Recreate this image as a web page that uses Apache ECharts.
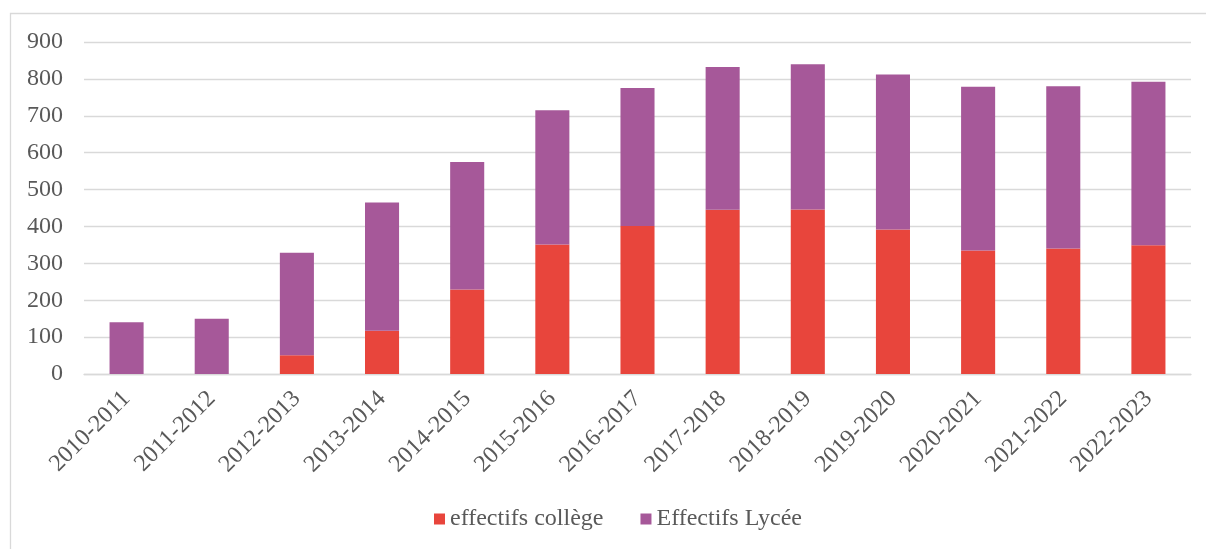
<!DOCTYPE html>
<html>
<head>
<meta charset="utf-8">
<script src="https://cdn.jsdelivr.net/npm/echarts@6/dist/echarts.min.js"></script>
<style>
  html, body { margin: 0; padding: 0; background: #fff; overflow: hidden; }
  #chart { width: 1206px; height: 549px; }
</style>
</head>
<body>
<div id="chart"></div>
<script>
const years = ['2010-2011', '2011-2012', '2012-2013', '2013-2014', '2014-2015', '2015-2016', '2016-2017',
  '2017-2018', '2018-2019', '2019-2020', '2020-2021', '2021-2022', '2022-2023']
const college = [0, 0, 51, 117, 229, 351, 401, 445, 446, 392, 335, 340, 349]
const lycee = [140, 150, 278, 348, 346, 364, 374, 387, 394, 420, 444, 440, 443]

const font = "'Liberation Serif', 'Times New Roman', serif"
const textColor = '#595959'

const chart = echarts.init(document.getElementById('chart'))

chart.setOption({
  animation: false,
  textStyle: { fontFamily: font },
  graphic: [
    {
      type: 'rect',
      shape: { x: 10.5, y: 13.5, width: 1400, height: 800 },
      style: { fill: 'none', stroke: '#d9d9d9', lineWidth: 1.3 },
      silent: true,
    },
  ],
  grid: {
    left: 84,
    right: 15,
    top: 42,
    bottom: 175,
    containLabel: false,
    outerBoundsMode: 'none',
  },
  legend: {
    left: 429,
    top: 502,
    itemWidth: 11,
    itemHeight: 11,
    itemGap: 37,
    icon: 'rect',
    textStyle: { fontFamily: font, fontSize: 24, color: textColor },
    data: ['effectifs collège', 'Effectifs Lycée'],
  },
  xAxis: {
    type: 'category',
    data: years,
    axisTick: { show: false },
    axisLine: { lineStyle: { color: '#d9d9d9', width: 1.3 } },
    axisLabel: {
      rotate: 45,
      margin: 21,
      interval: 0,
      fontFamily: font,
      fontSize: 24,
      color: textColor,
    },
  },
  yAxis: {
    type: 'value',
    min: 0,
    max: 900,
    interval: 100,
    axisLine: { show: false },
    axisTick: { show: false },
    axisLabel: { margin: 21, fontFamily: font, fontSize: 24, color: textColor },
    splitLine: { lineStyle: { color: '#d9d9d9', width: 1.3 } },
  },
  series: [
    {
      name: 'effectifs collège',
      type: 'bar',
      stack: 'total',
      barWidth: '40%',
      itemStyle: { color: '#e8453c' },
      data: college,
    },
    {
      name: 'Effectifs Lycée',
      type: 'bar',
      stack: 'total',
      barWidth: '40%',
      itemStyle: { color: '#a65899' },
      data: lycee,
    },
  ],
})
</script>
</body>
</html>
